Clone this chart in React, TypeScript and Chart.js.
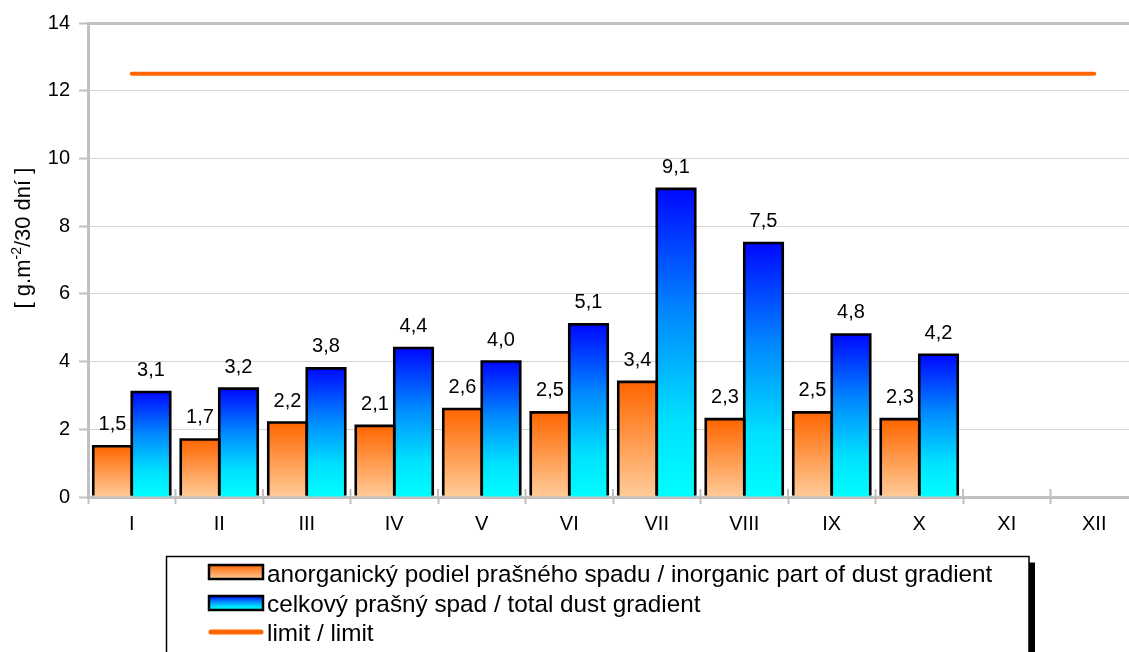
import React, { useEffect, useRef } from 'react';
import { Chart, registerables } from 'chart.js';

Chart.register(...registerables);

const FONT = '"Liberation Sans", Arial, sans-serif';

const categories = ['I', 'II', 'III', 'IV', 'V', 'VI', 'VII', 'VIII', 'IX', 'X', 'XI', 'XII'];
const inorganicValues = [1.5, 1.7, 2.2, 2.1, 2.6, 2.5, 3.4, 2.3, 2.5, 2.3, null, null];
const totalValues = [3.1, 3.2, 3.8, 4.4, 4.0, 5.1, 9.1, 7.5, 4.8, 4.2, null, null];
const limitValues = [12.5, 12.5, 12.5, 12.5, 12.5, 12.5, 12.5, 12.5, 12.5, 12.5, 12.5, 12.5];
const yMin = 0;
const yMax = 14;
const yStep = 2;
const seriesLabels = [
  'anorganický podiel prašného spadu / inorganic part of dust gradient',
  'celkový prašný spad / total dust gradient',
  'limit / limit',
];
const yTitleMain = '[ g.m';
const yTitleSup = '-2';
const yTitleRest = '/30 dní ]';

const orangeStops: [number, string][] = [
  [0, '#FF6600'],
  [1, '#FFCC99'],
];
const blueStops: [number, string][] = [
  [0, '#0008FF'],
  [0.4, '#0088FF'],
  [0.75, '#00E0FF'],
  [1, '#00FFFF'],
];
const limitColor = '#FF6600';
const axisGray = '#C0C0C0';
const gridGray = '#D4D4D4';

function makeGradient(c: CanvasRenderingContext2D, top: number, bottom: number, stops: [number, string][]) {
  const g = c.createLinearGradient(0, top, 0, bottom);
  stops.forEach(([o, col]) => g.addColorStop(o, col));
  return g;
}

function barFill(stops: [number, string][]) {
  return (ctx: any) => {
    const chart = ctx.chart;
    const y = chart.scales && chart.scales.y;
    if (!y || ctx.type !== 'data' || ctx.raw == null) return stops[0][1];
    const top = y.getPixelForValue(ctx.raw);
    const bottom = y.getPixelForValue(0);
    if (!isFinite(top) || !isFinite(bottom) || top === bottom) return stops[0][1];
    return makeGradient(chart.ctx, top, bottom, stops);
  };
}

const barOutlinePlugin = {
  id: 'barOutline',
  afterDatasetsDraw(chart: any) {
    const c: CanvasRenderingContext2D = chart.ctx;
    c.save();
    c.strokeStyle = '#000';
    c.lineWidth = 2.6;
    c.lineJoin = 'miter';
    [0, 1].forEach((di) => {
      const meta = chart.getDatasetMeta(di);
      const data = chart.data.datasets[di].data;
      meta.data.forEach((el: any, i: number) => {
        if (data[i] == null) return;
        const p = el.getProps(['x', 'y', 'base', 'width'], true);
        const l = p.x - p.width / 2;
        const r = p.x + p.width / 2;
        c.beginPath();
        c.moveTo(l, p.base - 1);
        c.lineTo(l, p.y);
        c.lineTo(r, p.y);
        c.lineTo(r, p.base - 1);
        c.stroke();
      });
    });
    c.restore();
  },
};

const dataLabelPlugin = {
  id: 'dataLabels',
  afterDatasetsDraw(chart: any) {
    const c: CanvasRenderingContext2D = chart.ctx;
    c.save();
    c.font = `20px ${FONT}`;
    c.fillStyle = '#000';
    c.textAlign = 'center';
    c.textBaseline = 'alphabetic';
    [0, 1].forEach((di) => {
      const meta = chart.getDatasetMeta(di);
      const data = chart.data.datasets[di].data;
      meta.data.forEach((el: any, i: number) => {
        const v = data[i];
        if (v == null) return;
        c.fillText(Number(v).toFixed(1).replace('.', ','), el.x, el.y - 16);
      });
    });
    c.restore();
  },
};

const axisExtrasPlugin = {
  id: 'axisExtras',
  beforeDatasetsDraw(chart: any) {
    const c: CanvasRenderingContext2D = chart.ctx;
    const area = chart.chartArea;
    const n = chart.data.labels.length;
    const w = (area.right - area.left) / n;
    c.save();
    c.strokeStyle = axisGray;
    c.lineWidth = 2;
    for (let i = 0; i <= n; i++) {
      const x = area.left + i * w;
      c.beginPath();
      c.moveTo(x, area.bottom - 8);
      c.lineTo(x, area.bottom);
      c.stroke();
    }
    c.restore();
  },
  afterDraw(chart: any) {
    const c: CanvasRenderingContext2D = chart.ctx;
    c.save();
    c.translate(30, 238);
    c.rotate(-Math.PI / 2);
    c.fillStyle = '#000';
    c.textBaseline = 'alphabetic';
    c.textAlign = 'left';
    const mainFont = `22px ${FONT}`;
    const supFont = `14px ${FONT}`;
    c.font = mainFont;
    const w1 = c.measureText(yTitleMain).width;
    const w3 = c.measureText(yTitleRest).width;
    c.font = supFont;
    const w2 = c.measureText(yTitleSup).width;
    const total = w1 + w2 + w3;
    let x = -total / 2;
    c.font = mainFont;
    c.fillText(yTitleMain, x, 0);
    x += w1;
    c.font = supFont;
    c.fillText(yTitleSup, x, -9);
    x += w2;
    c.font = mainFont;
    c.fillText(yTitleRest, x, 0);
    c.restore();
  },
};

const boxLegendPlugin = {
  id: 'boxLegend',
  afterDraw(chart: any) {
    const c: CanvasRenderingContext2D = chart.ctx;
    c.save();
    const bx = 166.5;
    const by = 556.5;
    const bw = 862.5;
    const bh = 110;
    c.fillStyle = '#000';
    c.fillRect(bx + bw, by + 6, 6, bh);
    c.fillStyle = '#fff';
    c.fillRect(bx, by, bw, bh);
    c.strokeStyle = '#000';
    c.lineWidth = 1.5;
    c.strokeRect(bx, by, bw, bh);

    const sx = 209;
    const sw = 54;
    const rowBase = [581.5, 611.5, 641];
    const swTop = [565, 596];
    const stops = [orangeStops, blueStops];
    for (let i = 0; i < 2; i++) {
      c.fillStyle = makeGradient(c, swTop[i], swTop[i] + 14, stops[i]);
      c.fillRect(sx, swTop[i], sw, 14);
      c.strokeStyle = '#000';
      c.lineWidth = 2.5;
      c.strokeRect(sx, swTop[i], sw, 14);
    }
    c.strokeStyle = limitColor;
    c.lineWidth = 5;
    c.lineCap = 'round';
    c.beginPath();
    c.moveTo(sx + 2, 632);
    c.lineTo(sx + sw - 2, 632);
    c.stroke();

    c.fillStyle = '#000';
    c.font = `24.3px ${FONT}`;
    c.textAlign = 'left';
    c.textBaseline = 'alphabetic';
    const labels = chart.data.datasets.map((d: any) => d.label);
    labels.forEach((t: string, i: number) => c.fillText(t, 267, rowBase[i]));
    c.restore();
  },
};

export default function App() {
  const ref = useRef<HTMLCanvasElement>(null);

  useEffect(() => {
    const canvas = ref.current;
    if (!canvas) return;
    Chart.defaults.font.family = FONT;
    const chart = new Chart(canvas, {
      type: 'bar',
      data: {
        labels: categories,
        datasets: [
          {
            type: 'bar',
            label: seriesLabels[0],
            data: inorganicValues as any,
            backgroundColor: barFill(orangeStops) as any,
            borderWidth: 0,
            categoryPercentage: 0.88,
            barPercentage: 1.0,
            order: 2,
          },
          {
            type: 'bar',
            label: seriesLabels[1],
            data: totalValues as any,
            backgroundColor: barFill(blueStops) as any,
            borderWidth: 0,
            categoryPercentage: 0.88,
            barPercentage: 1.0,
            order: 2,
          },
          {
            type: 'line',
            label: seriesLabels[2],
            data: limitValues,
            borderColor: limitColor,
            backgroundColor: limitColor,
            borderWidth: 4,
            borderCapStyle: 'round',
            pointRadius: 0,
            pointHoverRadius: 0,
            fill: false,
            order: 1,
          } as any,
        ],
      },
      options: {
        responsive: false,
        animation: false,
        events: [],
        layout: { padding: { left: 0, right: 22, top: 23, bottom: 115 } },
        plugins: {
          legend: { display: false },
          tooltip: { enabled: false },
          title: { display: false },
        },
        scales: {
          x: {
            offset: true,
            grid: {
              offset: true,
              drawOnChartArea: false,
              drawTicks: true,
              tickLength: 7,
              tickColor: axisGray,
              tickWidth: 2,
              color: axisGray,
            },
            border: { display: true, color: axisGray, width: 3 },
            ticks: { color: '#000', font: { size: 20, family: FONT }, padding: 8 },
            afterFit: (s: any) => {
              s.height = 40;
            },
          },
          y: {
            min: yMin,
            max: yMax,
            ticks: { stepSize: yStep, color: '#000', font: { size: 20, family: FONT }, padding: 9 },
            grid: {
              color: (ctx: any) => (ctx.tick && ctx.tick.value === yMax ? axisGray : gridGray),
              lineWidth: (ctx: any) => (ctx.tick && ctx.tick.value === yMax ? 3 : 1),
              tickColor: axisGray,
              tickWidth: 2,
              tickLength: 9,
            },
            border: { display: true, color: axisGray, width: 3 },
            afterFit: (s: any) => {
              s.width = 88;
            },
          },
        },
      },
      plugins: [axisExtrasPlugin, barOutlinePlugin, dataLabelPlugin, boxLegendPlugin],
    });
    return () => chart.destroy();
  }, []);

  return (
    <div
      style={{
        position: 'fixed',
        left: 0,
        top: 0,
        width: 1129,
        height: 652,
        overflow: 'hidden',
        background: '#fff',
      }}
    >
      <canvas ref={ref} width={1160} height={652} style={{ width: 1160, height: 652, display: 'block' }} />
    </div>
  );
}
